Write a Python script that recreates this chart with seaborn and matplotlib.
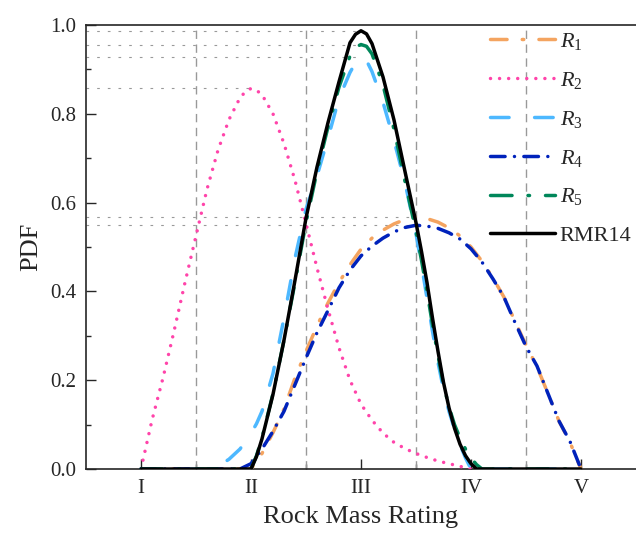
import numpy as np
import pandas as pd
import seaborn as sns
import matplotlib.pyplot as plt

# rating classes on the x axis (1 = I ... 5 = V)
class_labels = ['I', 'II', 'III', 'IV', 'V']
class_pos = [1, 2, 3, 4, 5]

# broad curves, read every 0.1 from 2.0 to 5.0
x_r14 = [1.0, 1.9, 2.0, 2.1, 2.2, 2.3, 2.4, 2.5, 2.6, 2.7, 2.8, 2.9,
         3.0, 3.1, 3.2, 3.3, 3.4, 3.5, 3.6, 3.7, 3.8, 3.9,
         4.0, 4.1, 4.2, 4.3, 4.4, 4.5, 4.6, 4.7, 4.8, 4.9, 5.0]
r1 = [0, 0, 0.0, 0.035, 0.082, 0.135, 0.205, 0.265, 0.322, 0.374, 0.42, 0.46,
      0.495, 0.52, 0.538, 0.552, 0.562, 0.568, 0.564, 0.556, 0.543, 0.525,
      0.50, 0.468, 0.43, 0.387, 0.333, 0.279, 0.23, 0.17, 0.108, 0.06, 0.0]
r4 = [0, 0, 0.012, 0.045, 0.085, 0.13, 0.19, 0.25, 0.307, 0.357, 0.408, 0.448,
      0.48, 0.502, 0.52, 0.534, 0.544, 0.549, 0.547, 0.542, 0.532, 0.518,
      0.496, 0.466, 0.428, 0.387, 0.33, 0.276, 0.232, 0.17, 0.108, 0.062, 0.0]

x_r2 = [1.0, 1.1, 1.2, 1.3, 1.4, 1.5, 1.6, 1.7, 1.8, 1.9, 1.95, 2.0, 2.05,
        2.1, 2.2, 2.3, 2.4, 2.5, 2.6, 2.7, 2.8, 2.9, 3.0, 3.1, 3.2, 3.3,
        3.4, 3.5, 3.6, 3.7, 3.8, 3.9, 4.0]
r2 = [0.0, 0.11, 0.205, 0.31, 0.42, 0.525, 0.63, 0.718, 0.787, 0.836, 0.85,
      0.857, 0.853, 0.843, 0.80, 0.733, 0.65, 0.553, 0.453, 0.36, 0.273,
      0.20, 0.146, 0.11, 0.081, 0.06, 0.046, 0.035, 0.026, 0.018, 0.012,
      0.006, 0.0]

# narrow curves round class III
x_mid = [1.0, 1.6, 1.7, 1.8, 1.9, 2.0, 2.05, 2.1, 2.2, 2.3, 2.4, 2.5, 2.6,
         2.7, 2.8, 2.9, 2.95, 3.0, 3.05, 3.1, 3.2, 3.3, 3.4, 3.5, 3.55,
         3.6, 3.65, 3.7, 3.75, 3.8, 3.85, 3.9, 3.95, 4.0, 4.05, 4.1, 5.0]
r3 = [0, 0, 0.006, 0.022, 0.045, 0.08, 0.102, 0.13, 0.215, 0.34, 0.475,
      0.585, 0.66, 0.745, 0.835, 0.893, 0.915, 0.927, 0.92, 0.895, 0.826,
      0.74, 0.645, 0.53, 0.46, 0.385, 0.31, 0.24, 0.18, 0.13, 0.09, 0.055,
      0.025, 0.0, 0, 0, 0]
r5 = [0, 0, 0, 0, 0, 0.0, 0.03, 0.07, 0.17, 0.29, 0.42,
      0.555, 0.67, 0.77, 0.86, 0.93, 0.95, 0.956, 0.952, 0.935, 0.865,
      0.765, 0.648, 0.535, 0.47, 0.40, 0.325, 0.255, 0.19, 0.14, 0.10, 0.07,
      0.045, 0.025, 0.01, 0.0, 0]
rmr14 = [0, 0, 0, 0, 0, 0.0, 0.028, 0.068, 0.168, 0.29, 0.425,
         0.565, 0.68, 0.78, 0.872, 0.96, 0.979, 0.987, 0.98, 0.958, 0.883,
         0.786, 0.67, 0.555, 0.49, 0.42, 0.34, 0.265, 0.195, 0.138, 0.092,
         0.056, 0.03, 0.012, 0.0, 0, 0]

series = [
    ('$R_1$', x_r14, r1, '#F4A460', (4.77, 4.37, 0.44, 4.37)),
    ('$R_2$', x_r2, r2, '#FF44AA', (0.01, 2.6)),
    ('$R_3$', x_mid, r3, '#4DB8FF', (5.35, 7.35)),
    ('$R_4$', x_r14, r4, '#0022BB', (4.2, 2.7, 0.01, 2.7)),
    ('$R_5$', x_mid, r5, '#00875A', (6.2, 4.6, 0.44, 4.6)),
    ('RMR14', x_mid, rmr14, '#000000', None),
]

sns.set_style('ticks')
plt.rcParams['font.family'] = ['Liberation Serif', 'DejaVu Serif']
plt.rcParams['mathtext.fontset'] = 'custom'
plt.rcParams['mathtext.rm'] = 'Liberation Serif'
plt.rcParams['mathtext.it'] = 'Liberation Serif:italic'

fig = plt.figure(figsize=(6.36, 5.34), dpi=100)
ax = fig.add_axes([0.1352, 0.1217, 0.8648, 0.8315])
xlim = (0.5, 5.5)

# class boundaries
for b in np.array(class_pos[:-1]) + 0.5:
    ax.axvline(b, color='#999999', lw=1.0, ls=(0, (6, 4)), zorder=1)

for name, xs, vals, col, dash in series:
    df = pd.DataFrame({'x': xs, 'y': vals})
    ls = '-' if dash is None else (0, dash)
    sns.lineplot(data=df, x='x', y='y', ax=ax, color=col, lw=2.5, ls=ls,
                 dash_capstyle='round', solid_capstyle='round',
                 errorbar=None, label=name, zorder=3)
    i = df['y'].idxmax()
    ax.hlines(df.loc[i, 'y'], xlim[0], df.loc[i, 'x'], color='#999999',
              lw=0.8, ls=(0, (2.4, 7.2)), zorder=1)

ax.set_xlim(*xlim)
ax.set_ylim(0, 1.0)
ax.set_xticks(class_pos)
ax.set_xticklabels(class_labels)
ax.set_xticks(np.array(class_pos[:-1]) + 0.5, minor=True)
ax.set_yticks([0, 0.2, 0.4, 0.6, 0.8, 1.0])
ax.set_yticklabels(['0.0', '0.2', '0.4', '0.6', '0.8', '1.0'])
ax.set_yticks([0.1, 0.3, 0.5, 0.7, 0.9], minor=True)
ax.tick_params(which='both', direction='in', labelsize=15, width=1.0)
ax.tick_params(which='major', length=7, pad=7)
ax.tick_params(which='minor', length=3.5)
ax.spines['right'].set_visible(False)
for s in ['left', 'top', 'bottom']:
    ax.spines[s].set_linewidth(1.2)

ax.set_xlabel('Rock Mass Rating', fontsize=19, labelpad=6)
ax.set_ylabel('PDF', fontsize=19, labelpad=6)

ax.legend(loc='upper right', frameon=False, fontsize=16, handlelength=2.93,
          handletextpad=0.2, labelspacing=0.80, borderaxespad=0.2,
          bbox_to_anchor=(1.016, 1.016))

plt.savefig('out.png', dpi=100)
